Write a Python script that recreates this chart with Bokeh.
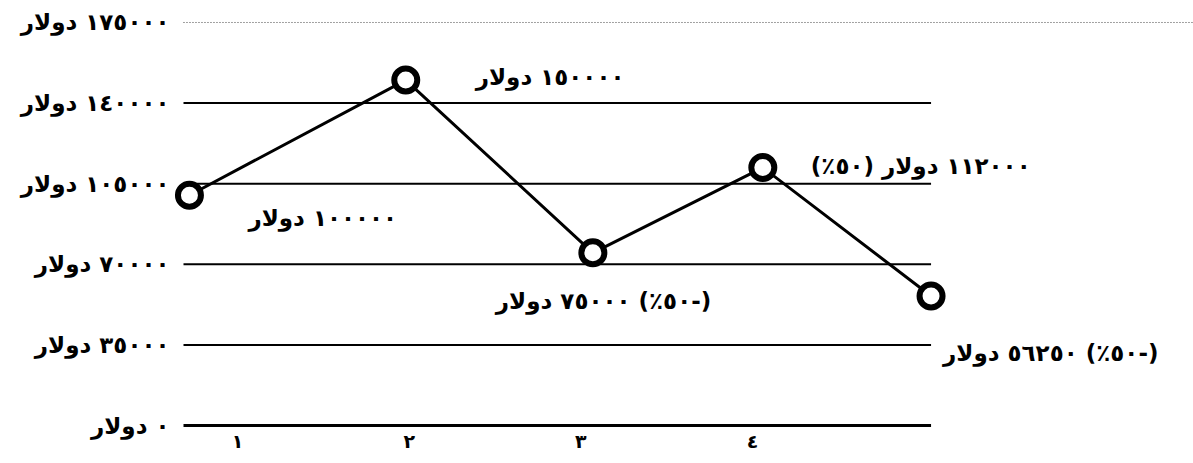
from bokeh.plotting import figure
from bokeh.models import Range1d, ColumnDataSource
from bokeh.core.properties import value
from bokeh.embed import file_html
from bokeh.resources import INLINE

# Revenue per period (dollars)
period_x = [0.72, 1.98, 3.07, 4.06, 5.04]
revenue = [100000, 150000, 75000, 112000, 56250]
point_labels = [
    "١٠٠٠٠٠ دولار",
    "١٥٠٠٠٠ دولار",
    "(-٥٠٪) ٧٥٠٠٠ دولار",
    "١١٢٠٠٠ دولار (٥٠٪)",
    "(-٥٠٪) ٥٦٢٥٠ دولار",
]

y_ticks = [0, 35000, 70000, 105000, 140000, 175000]
y_tick_labels = ["٠ دولار", "٣٥٠٠٠ دولار", "٧٠٠٠٠ دولار",
                 "١٠٥٠٠٠ دولار", "١٤٠٠٠٠ دولار", "١٧٥٠٠٠ دولار"]
x_ticks = [1, 2, 3, 4]
x_tick_labels = ["١", "٢", "٣", "٤"]

RLM = "\u200f"


def rtl(s):
    # keep Arabic strings (with their parentheses) in one right-to-left run
    return RLM + s + RLM


FONT = value("DejaVu Sans")
GRID_START = 0.6854  # where the horizontal rules begin

p = figure(width=1193, height=463, output_backend="svg", toolbar_location=None,
           x_range=Range1d(-0.3806, 6.5688), y_range=Range1d(-16501, 184553),
           min_border=0)
p.outline_line_color = None
p.background_fill_color = "white"
p.border_fill_color = "white"
p.xgrid.visible = False
p.ygrid.visible = False
p.xaxis.visible = False
p.yaxis.visible = False

# horizontal reference lines, ending at the last period
x1 = max(period_x)
solid = y_ticks[:-1]
p.segment(x0=[GRID_START] * len(solid), x1=[x1] * len(solid), y0=solid, y1=solid,
          line_color="black", line_width=[3] + [2] * (len(solid) - 1))
p.segment(x0=[GRID_START], x1=[p.x_range.end], y0=[y_ticks[-1]], y1=[y_ticks[-1]],
          line_color="#444444", line_width=1, line_dash="1 2")

# value labels at the left end of each rule
p.text(x=[GRID_START] * len(y_ticks), y=y_ticks, text=[rtl(s) for s in y_tick_labels],
       x_offset=-14, text_align="right", text_baseline="middle", text_font=FONT,
       text_font_style="bold", text_font_size="23px", text_color="black")

# period numbers under the bottom rule
p.text(x=x_ticks, y=[y_ticks[0]] * len(x_ticks), text=x_tick_labels,
       y_offset=15, text_align="center", text_baseline="middle", text_font=FONT,
       text_font_style="bold", text_font_size="19px", text_color="black")

# revenue line with hollow markers
p.line(period_x, revenue, line_color="black", line_width=3)
p.scatter(period_x, revenue, marker="circle", size=23, fill_color="white",
          line_color="black", line_width=6)

src = ColumnDataSource(dict(
    x=period_x, y=revenue, text=[rtl(s) for s in point_labels],
    dx=[59, 70, -97, 48, 12], dy=[23, -3, 48, -2, 57],
))
p.text(x="x", y="y", text="text", x_offset="dx", y_offset="dy", source=src,
       text_align="left", text_baseline="middle", text_font=FONT,
       text_font_style="bold", text_font_size="23px", text_color="black")

open("out.html", "w").write(file_html(p, INLINE))
